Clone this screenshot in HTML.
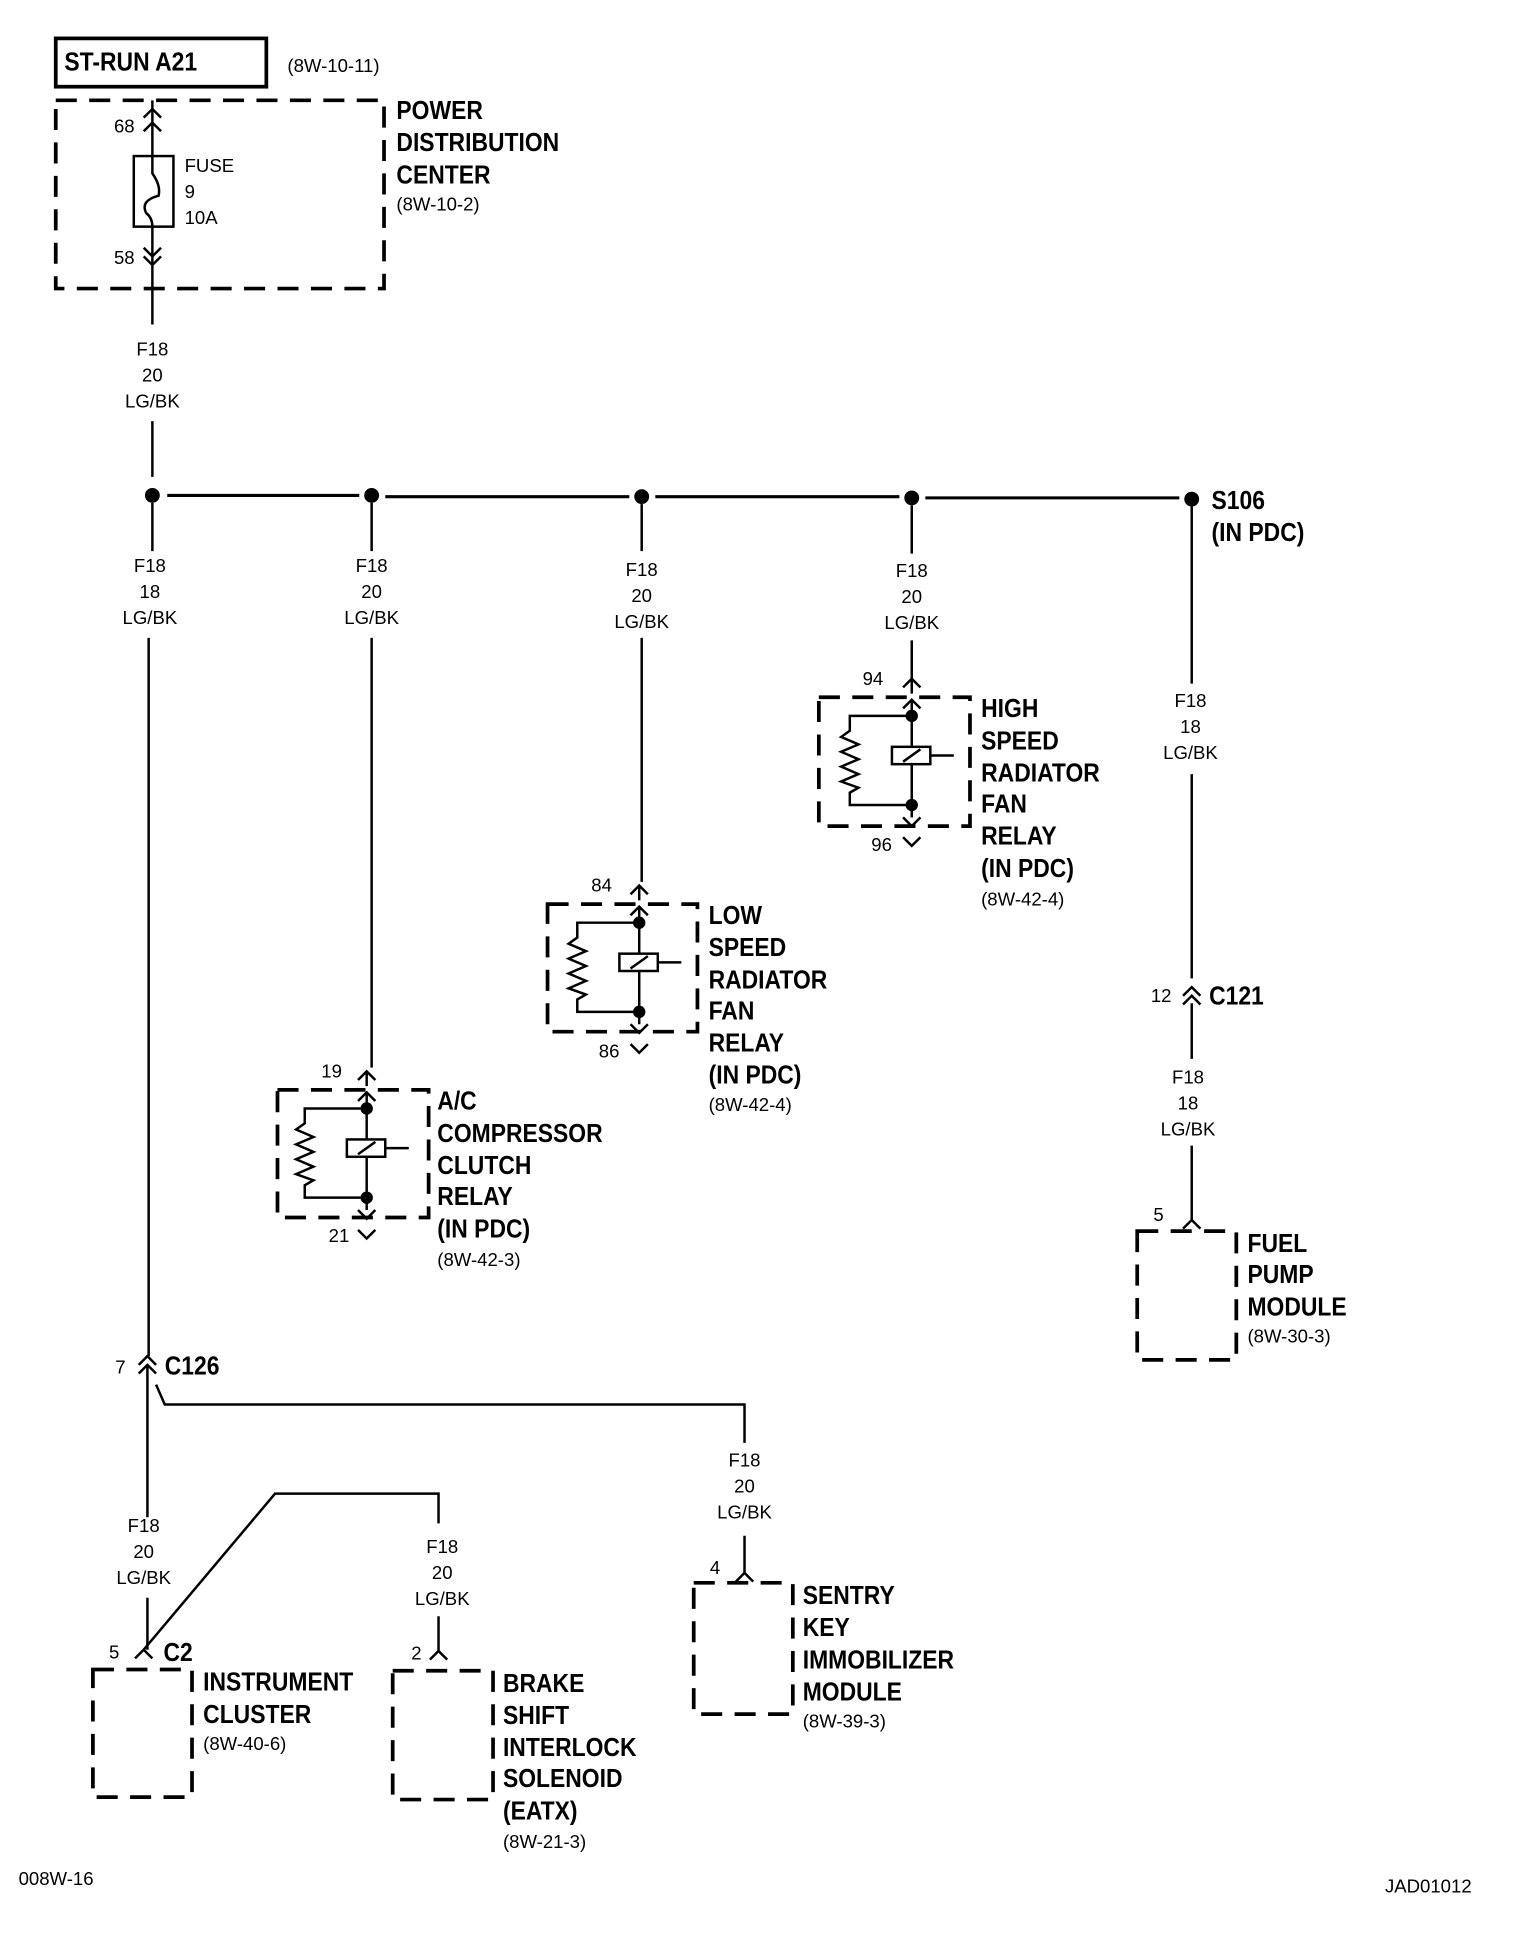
<!DOCTYPE html>
<html><head><meta charset="utf-8"><style>
html,body{margin:0;padding:0;background:#fff}
svg{display:block}
text{font-family:"Liberation Sans Narrow","Liberation Sans",sans-serif;fill:#000}
.b{font-weight:bold;font-size:21px}
.s{font-size:15px}
.w{fill:none;stroke:#000;stroke-width:2}
.d{fill:none;stroke:#000;stroke-width:3;stroke-dasharray:17 10}
</style></head><body>
<svg width="1520" height="1942" viewBox="0 0 1227 1568" preserveAspectRatio="none" xmlns="http://www.w3.org/2000/svg">
<defs>
<g id="relay">
  <path class="w" d="M-7,-8 L0,-15 L7,-8 M0,-15 V-3"/>
  <path class="w" d="M-7,9 L0,2 L7,9 M0,2 V97 M-7,97 L0,104 L7,97 M-7,113 L0,120 L7,113"/>
  <circle cx="0" cy="15" r="5"/><circle cx="0" cy="87" r="5"/>
  <path class="w" d="M0,15 H-50 V27 L-57,32 L-43,38 L-57,44 L-43,50 L-57,56 L-43,62 L-57,68 L-43,73 L-50,77 V87 H0"/>
  <rect x="-16" y="40" width="31" height="14" fill="#fff" stroke="#000" stroke-width="2"/>
  <path class="w" d="M-7,52 L7,42 M15,47 H34"/>
</g>
</defs>
<!-- top -->
<rect x="45" y="31" width="170" height="39" fill="none" stroke="#000" stroke-width="3"/>
<g class="b" transform="translate(52 0) scale(.88 1)"><text x="0" y="57">ST-RUN A21</text></g>
<text class="s" x="232" y="58">(8W-10-11)</text>
<rect class="d" x="45" y="81" width="265" height="152"/>
<path class="w" d="M123,81 V126 M116,95 L123,88 L130,95 M116,106 L123,99 L130,106 M123,183 V262 M116,200 L123,207 L130,200 M116,207 L123,214 L130,207 M123,340 V385"/>
<rect x="108" y="126" width="32" height="57" fill="none" stroke="#000" stroke-width="2"/>
<path class="w" d="M123,126 V140 Q130,150 128,158 Q113,162 118,172 Q123,176 123,183"/>
<text class="s" x="92" y="107">68</text><text class="s" x="92" y="213">58</text>
<text class="s" x="149" y="139">FUSE</text><text class="s" x="149" y="160">9</text><text class="s" x="149" y="181">10A</text>
<g class="b" transform="translate(320 0) scale(.88 1)"><text x="0" y="96">POWER</text><text x="0" y="122">DISTRIBUTION</text><text x="0" y="148">CENTER</text></g>
<text class="s" x="320" y="170">(8W-10-2)</text>
<g class="s" text-anchor="middle"><text x="123" y="287">F18</text><text x="123" y="308">20</text><text x="123" y="329">LG/BK</text></g>
<!-- bus -->
<path class="w" style="stroke-width:2.5" d="M135,400 H290 M311,401 H508 M529,401 H726 M747,402 H952"/>
<circle cx="123" cy="400" r="6"/><circle cx="300" cy="400" r="6"/><circle cx="518" cy="401" r="6"/><circle cx="736" cy="402" r="6"/><circle cx="962" cy="403" r="6"/>
<g class="b" transform="translate(978 0) scale(.88 1)"><text x="0" y="411">S106</text><text x="0" y="437">(IN PDC)</text></g>
<!-- drops -->
<path class="w" d="M123,406 V445 M120,515 V1095 M300,406 V445 M300,515 V862 M518,407 V445 M518,515 V712 M736,408 V447 M736,517 V548 M962,409 V552 M962,625 V790 M962,810 V855 M962,925 V985"/>
<g class="s" text-anchor="middle">
<text x="121" y="462">F18</text><text x="121" y="483">18</text><text x="121" y="504">LG/BK</text>
<text x="300" y="462">F18</text><text x="300" y="483">20</text><text x="300" y="504">LG/BK</text>
<text x="518" y="465">F18</text><text x="518" y="486">20</text><text x="518" y="507">LG/BK</text>
<text x="736" y="466">F18</text><text x="736" y="487">20</text><text x="736" y="508">LG/BK</text>
<text x="961" y="571">F18</text><text x="961" y="592">18</text><text x="961" y="613">LG/BK</text>
<text x="959" y="875">F18</text><text x="959" y="896">18</text><text x="959" y="917">LG/BK</text>
</g>
<!-- relays -->
<rect class="d" x="661" y="563" width="122" height="104"/>
<use href="#relay" x="736" y="563"/>
<text class="s" x="713" y="553" text-anchor="end">94</text><text class="s" x="720" y="687" text-anchor="end">96</text>
<g class="b" transform="translate(792 0) scale(.88 1)"><text x="0" y="579">HIGH</text><text x="0" y="605">SPEED</text><text x="0" y="631">RADIATOR</text><text x="0" y="656">FAN</text><text x="0" y="682">RELAY</text><text x="0" y="708">(IN PDC)</text></g>
<text class="s" x="792" y="731">(8W-42-4)</text>

<rect class="d" x="442" y="730" width="121" height="103"/>
<use href="#relay" x="516" y="730"/>
<text class="s" x="494" y="720" text-anchor="end">84</text><text class="s" x="500" y="854" text-anchor="end">86</text>
<g class="b" transform="translate(572 0) scale(.88 1)"><text x="0" y="746">LOW</text><text x="0" y="772">SPEED</text><text x="0" y="798">RADIATOR</text><text x="0" y="823">FAN</text><text x="0" y="849">RELAY</text><text x="0" y="875">(IN PDC)</text></g>
<text class="s" x="572" y="897">(8W-42-4)</text>

<rect class="d" x="224" y="880" width="122" height="103"/>
<use href="#relay" x="296" y="880"/>
<text class="s" x="276" y="870" text-anchor="end">19</text><text class="s" x="282" y="1003" text-anchor="end">21</text>
<g class="b" transform="translate(353 0) scale(.88 1)"><text x="0" y="896">A/C</text><text x="0" y="922">COMPRESSOR</text><text x="0" y="948">CLUTCH</text><text x="0" y="973">RELAY</text><text x="0" y="999">(IN PDC)</text></g>
<text class="s" x="353" y="1022">(8W-42-3)</text>

<!-- C121 / fuel pump -->
<path class="w" d="M955,804 L962,797 L969,804 M955,811 L962,804 L969,811 M955,992 L962,985 L969,992"/>
<text class="s" x="929" y="809">12</text>
<g class="b" transform="translate(976 0) scale(.88 1)"><text x="0" y="811">C121</text></g>
<text class="s" x="931" y="986">5</text>
<rect class="d" x="918" y="994" width="80" height="104"/>
<g class="b" transform="translate(1007 0) scale(.88 1)"><text x="0" y="1011">FUEL</text><text x="0" y="1036">PUMP</text><text x="0" y="1062">MODULE</text></g>
<text class="s" x="1007" y="1084">(8W-30-3)</text>

<!-- C126 -->
<path class="w" d="M112,1102 L119,1095 L126,1102 M112,1109 L119,1102 L126,1109 M119,1102 V1225 M119,1290 V1332 M126,1118 L133,1134 H601 V1165 M601,1240 V1270 M594,1277 L601,1270 L608,1277"/>
<text class="s" x="93" y="1109">7</text>
<g class="b" transform="translate(133 0) scale(.88 1)"><text x="0" y="1110">C126</text></g>
<g class="s" text-anchor="middle">
<text x="116" y="1237">F18</text><text x="116" y="1258">20</text><text x="116" y="1279">LG/BK</text>
<text x="601" y="1184">F18</text><text x="601" y="1205">20</text><text x="601" y="1226">LG/BK</text>
<text x="357" y="1254">F18</text><text x="357" y="1275">20</text><text x="357" y="1296">LG/BK</text>
</g>
<text class="s" x="573" y="1271">4</text>
<rect class="d" x="560" y="1278" width="80" height="106"/>
<g class="b" transform="translate(648 0) scale(.88 1)"><text x="0" y="1295">SENTRY</text><text x="0" y="1321">KEY</text><text x="0" y="1347">IMMOBILIZER</text><text x="0" y="1373">MODULE</text></g>
<text class="s" x="648" y="1395">(8W-39-3)</text>

<!-- instrument cluster -->
<path class="w" d="M109,1339 L116,1332 L123,1339 M116,1332 L222,1206 H354 V1230 M354,1305 V1333 M347,1340 L354,1333 L361,1340"/>
<text class="s" x="88" y="1339">5</text>
<g class="b" transform="translate(132 0) scale(.88 1)"><text x="0" y="1341">C2</text></g>
<rect class="d" x="75" y="1348" width="80" height="103"/>
<g class="b" transform="translate(164 0) scale(.88 1)"><text x="0" y="1365">INSTRUMENT</text><text x="0" y="1391">CLUSTER</text></g>
<text class="s" x="164" y="1413">(8W-40-6)</text>
<text class="s" x="332" y="1340">2</text>
<rect class="d" x="317" y="1349" width="81" height="104"/>
<g class="b" transform="translate(406 0) scale(.88 1)"><text x="0" y="1366">BRAKE</text><text x="0" y="1392">SHIFT</text><text x="0" y="1418">INTERLOCK</text><text x="0" y="1443">SOLENOID</text><text x="0" y="1469">(EATX)</text></g>
<text class="s" x="406" y="1492">(8W-21-3)</text>
<text class="s" x="15" y="1522">008W-16</text>
<text class="s" x="1118" y="1528">JAD01012</text>
</svg>
</body></html>
